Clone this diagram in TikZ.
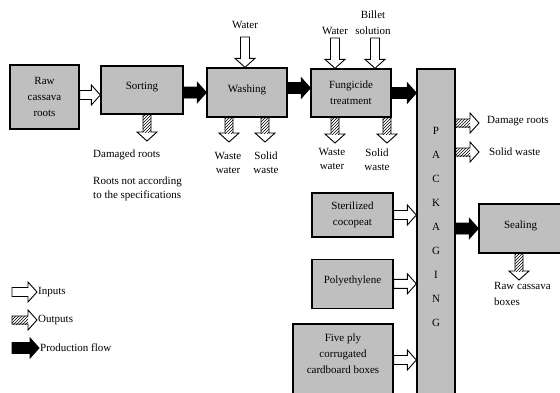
\documentclass[tikz,border=0pt]{standalone}
\usepackage{fontspec}
\setmainfont{Liberation Serif}
\usetikzlibrary{positioning, calc, patterns}

% fat arrow between two points, #1 = half width of the shaft
\tikzset{
  blockarrow/.style={to path={
    let \p1=(\tikztostart), \p2=($(\tikztostart)!#1!90:(\tikztotarget)-(\tikztostart)$),
        \p3=($(\tikztotarget)!9pt!(\tikztostart)$),
        \p4=($(\tikztostart)!10pt!90:(\tikztotarget)-(\tikztostart)$) in
    ($(\p1)+(\p2)$) -- ($(\p3)+(\p2)$) -- ($(\p3)+(\p4)$) -- (\tikztotarget)
    -- ($(\p3)-(\p4)$) -- ($(\p3)-(\p2)$) -- ($(\p1)-(\p2)$) -- cycle}},
  blockarrow/.default=4.5pt,
  hatchshaft/.style={pattern=north east lines, to path={
    let \p1=(\tikztostart), \p2=($(\tikztostart)!4pt!90:(\tikztotarget)-(\tikztostart)$),
        \p3=($(\tikztotarget)!9pt!(\tikztostart)$) in
    ($(\p1)+(\p2)$) -- ($(\p3)+(\p2)$) -- ($(\p3)-(\p2)$) -- ($(\p1)-(\p2)$) -- cycle}}
}
\newcommand{\outputarrow}[2]{%
  \draw[line width=0.9pt, fill=white, blockarrow=4pt] #1 to #2;
  \path[hatchshaft] #1 to #2;}

\begin{document}
\begin{tikzpicture}[x=1pt, y=-1pt,
  font=\fontsize{11}{16}\selectfont,
  box/.style={draw, line width=1.3pt, fill=black!25, align=center, inner sep=1pt},
  txt/.style={align=center, inner sep=1pt},
  twoline/.style={txt, font=\fontsize{11}{14}\selectfont},
  inarrow/.style={draw, line width=0.9pt, fill=white, blockarrow=4.5pt},
  flowarrow/.style={draw, line width=0.9pt, fill=black, blockarrow=5.5pt}
]
\useasboundingbox (0,0) rectangle (560,392);

% process chain
\node[box, minimum width=69pt, minimum height=64pt] (raw) at (44.5,97) {Raw\\cassava\\roots};
\node[box, minimum width=82pt, minimum height=48pt, text depth=8pt] (sorting) at (142,90) {Sorting};
\node[box, minimum width=80pt, minimum height=49pt, text depth=8pt] (washing) at (247,92.5) {Washing};
\node[box, minimum width=80pt, minimum height=48pt] (fungicide) at (351,93) {Fungicide\\treatment};
\node[box, minimum width=38pt, minimum height=327pt,
  label={[align=center, font=\fontsize{11}{24}\selectfont, yshift=6pt]center:P\\A\\C\\K\\A\\G\\I\\N\\G}]
  (packaging) at (436,232.5) {};
\node[box, minimum width=83pt, minimum height=49pt, text depth=8pt] (sealing) at (520.5,228.5) {Sealing};

% packaging materials
\node[box, minimum width=81pt, minimum height=44pt] (cocopeat) at (352.5,215) {Sterilized\\cocopeat};
\node[box, minimum width=81pt, minimum height=49pt, text depth=8pt, below=21pt of cocopeat] (polyethylene) {Polyethylene};
\node[box, minimum width=100pt, minimum height=72pt,
  label={[align=center, yshift=6.5pt]center:Five ply\\corrugated\\cardboard boxes}]
  (cardboard) at (343,360) {};

% inputs and outputs text
\node[txt] (washwater) at (245,25) {Water};
\node[txt] (fungwater) at (335,31) {Water};
\node[txt] (billet) at (373,23) {Billet\\solution};
\node[txt, anchor=west] (damaged) at (92,155) {Damaged roots};
\node[twoline, anchor=west, align=left] (notspec) at (92,188.5) {Roots not according\\to the specifications};
\node[twoline] (washwaste) at (228,162.5) {Waste\\water};
\node[twoline] (washsolid) at (266,162.5) {Solid\\waste};
\node[twoline] (fungwaste) at (332,159) {Waste\\water};
\node[twoline] (fungsolid) at (377,160) {Solid\\waste};
\node[txt, anchor=west] (damage) at (486,121) {Damage roots};
\node[txt, anchor=west] (solid) at (488,152) {Solid waste};
\node[txt, anchor=west, align=left] (boxes) at (493,294) {Raw cassava\\boxes};

% legend
\node[txt, anchor=west] (inputs) at (37,292) {Inputs};
\node[txt, anchor=west] (outputs) at (37,320) {Outputs};
\node[txt, anchor=west] (prodflow) at (39,348) {Production flow};

% free arrow ends
\coordinate (washin) at (245,37);
\coordinate (fungin) at (335,38);
\coordinate (billetin) at (375,38);
\coordinate (sortout) at (147,141);
\coordinate (washout1) at (229,142);
\coordinate (washout2) at (265,142);
\coordinate (fungout1) at (335,143);
\coordinate (fungout2) at (387,143);
\coordinate (packout1) at (479,123);
\coordinate (packout2) at (479,152);
\coordinate (sealout) at (519,280);
\coordinate (legin) at (12,292);
\coordinate (legout) at (12,320);
\coordinate (legflow) at (12,348);

% production flow
\draw[inarrow] ([yshift=2pt]raw.east) to ([yshift=-5pt]sorting.west);
\draw[flowarrow] ([yshift=-2.5pt]sorting.east) to (washing.west);
\draw[flowarrow] ([yshift=4.5pt]washing.east) to ([yshift=5pt]fungicide.west);
\draw[flowarrow] (fungicide.east) to (packaging.west |- fungicide.east);
\draw[flowarrow] (packaging.east |- sealing.west) to (sealing.west);

% inputs
\draw[inarrow] (washin) to (washin |- washing.north);
\draw[inarrow] (fungin) to (fungin |- fungicide.north);
\draw[inarrow] (billetin) to (billetin |- fungicide.north);
\draw[inarrow] (cocopeat.east) to (packaging.west |- cocopeat.east);
\draw[inarrow] (polyethylene.east) to (packaging.west |- polyethylene.east);
\draw[inarrow] (cardboard.east) to (packaging.west |- cardboard.east);

% outputs
\outputarrow{(sorting.south -| sortout)}{(sortout)}
\outputarrow{(washing.south -| washout1)}{(washout1)}
\outputarrow{(washing.south -| washout2)}{(washout2)}
\outputarrow{(fungicide.south -| fungout1)}{(fungout1)}
\outputarrow{(fungicide.south -| fungout2)}{(fungout2)}
\outputarrow{(packaging.east |- packout1)}{(packout1)}
\outputarrow{(packaging.east |- packout2)}{(packout2)}
\outputarrow{(sealing.south -| sealout)}{(sealout)}

% legend arrows
\draw[inarrow] (legin) to (inputs.west);
\outputarrow{(legout)}{(outputs.west)}
\draw[flowarrow] (legflow) to (prodflow.west);

\end{tikzpicture}
\end{document}
